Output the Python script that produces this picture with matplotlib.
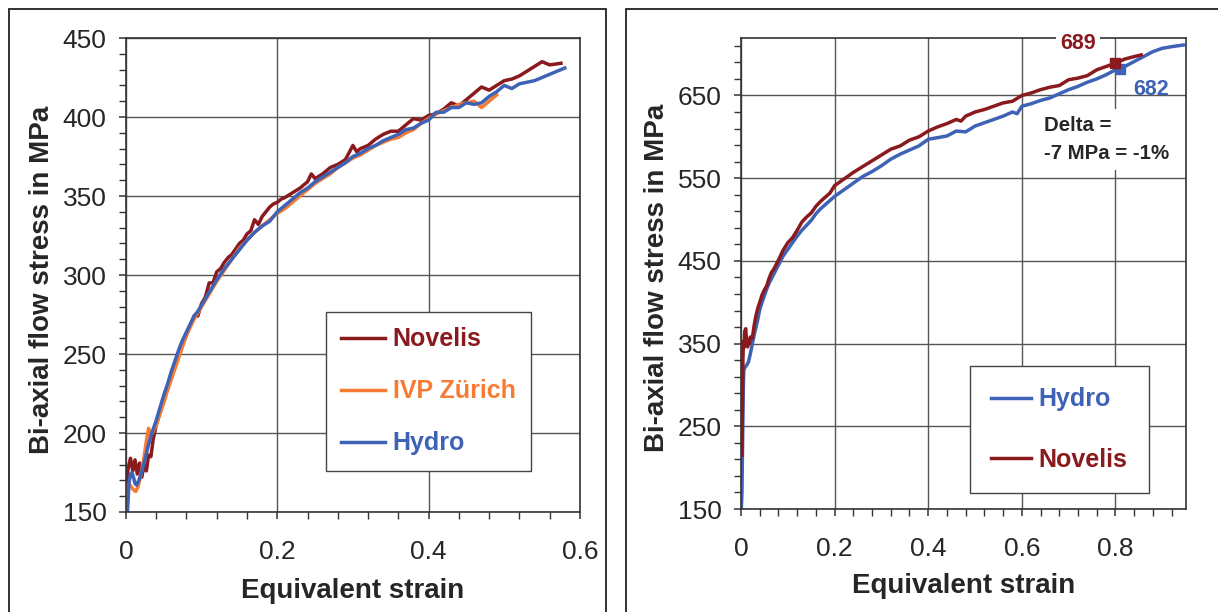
import numpy as np
import matplotlib
matplotlib.use("Agg")
import matplotlib.pyplot as plt
from matplotlib.patches import Rectangle
from matplotlib.ticker import MultipleLocator

plt.rcParams['font.family'] = ['Liberation Sans', 'DejaVu Sans']

# --- left panel: three labs, same material ---
novelis_l_strain = [0.000, 0.003, 0.006, 0.009, 0.012, 0.015, 0.018, 0.021, 0.024, 0.027,
                    0.030, 0.033, 0.036, 0.040, 0.045, 0.050, 0.055, 0.060, 0.065, 0.070,
                    0.075, 0.080, 0.085, 0.090, 0.095, 0.100, 0.105, 0.110, 0.115, 0.120,
                    0.125, 0.130, 0.135, 0.140, 0.150, 0.155, 0.160, 0.165, 0.170, 0.175,
                    0.180, 0.185, 0.190, 0.195, 0.200, 0.205, 0.210, 0.220, 0.230, 0.240,
                    0.245, 0.250, 0.260, 0.270, 0.280, 0.290, 0.300, 0.305, 0.310, 0.320,
                    0.330, 0.340, 0.350, 0.360, 0.370, 0.380, 0.390, 0.400, 0.410, 0.420,
                    0.430, 0.440, 0.450, 0.460, 0.470, 0.480, 0.490, 0.500, 0.510, 0.520,
                    0.530, 0.540, 0.550, 0.560, 0.575]
novelis_l_stress = [165, 178, 184, 176, 183, 174, 181, 172, 180, 176,
                    186, 185, 196, 205, 213, 222, 228, 236, 243, 250,
                    256, 262, 268, 274, 274, 282, 286, 295, 295, 302,
                    304, 308, 311, 313, 320, 322, 326, 328, 335, 332,
                    337, 340, 343, 345, 346, 348, 349, 352, 355, 359,
                    364, 361, 364, 368, 370, 373, 382, 378, 380, 382,
                    386, 389, 391, 391, 395, 399, 398, 401, 402, 405,
                    409, 407, 411, 415, 419, 417, 420, 423, 424, 426,
                    429, 432, 435, 433, 434]

ivp_strain = [0.000, 0.004, 0.007, 0.010, 0.013, 0.016, 0.020, 0.024, 0.027, 0.030,
              0.032, 0.035, 0.040, 0.045, 0.050, 0.055, 0.060, 0.065, 0.070, 0.075,
              0.080, 0.090, 0.100, 0.110, 0.120, 0.130, 0.140, 0.150, 0.160, 0.170,
              0.180, 0.190, 0.200, 0.210, 0.220, 0.230, 0.240, 0.250, 0.260, 0.270,
              0.280, 0.290, 0.300, 0.310, 0.320, 0.330, 0.340, 0.350, 0.360, 0.370,
              0.380, 0.390, 0.400, 0.410, 0.420, 0.430, 0.440, 0.450, 0.460, 0.470,
              0.480, 0.490]
ivp_stress = [160, 168, 166, 164, 163, 166, 174, 185, 195, 203,
              198, 200, 205, 212, 219, 227, 234, 241, 248, 255,
              262, 272, 280, 288, 296, 303, 310, 317, 322, 327,
              331, 335, 339, 342, 346, 350, 354, 358, 361, 364,
              368, 371, 374, 376, 379, 382, 384, 386, 387, 390,
              392, 396, 399, 402, 404, 406, 408, 409, 410, 406,
              410, 414]

hydro_l_strain = [0.000, 0.002, 0.004, 0.006, 0.008, 0.010, 0.012, 0.014, 0.017, 0.020,
                  0.025, 0.030, 0.035, 0.040, 0.045, 0.050, 0.055, 0.060, 0.065, 0.070,
                  0.075, 0.080, 0.085, 0.090, 0.095, 0.100, 0.105, 0.110, 0.115, 0.120,
                  0.130, 0.140, 0.150, 0.160, 0.170, 0.180, 0.190, 0.200, 0.210, 0.220,
                  0.230, 0.240, 0.250, 0.260, 0.270, 0.280, 0.290, 0.300, 0.310, 0.320,
                  0.330, 0.340, 0.350, 0.360, 0.370, 0.380, 0.390, 0.400, 0.410, 0.420,
                  0.430, 0.440, 0.450, 0.460, 0.470, 0.480, 0.490, 0.500, 0.510, 0.520,
                  0.530, 0.540, 0.550, 0.560, 0.570, 0.580]
hydro_l_stress = [148, 150, 168, 174, 175, 172, 168, 167, 170, 174,
                  183, 193, 201, 208, 216, 224, 231, 239, 246, 253,
                  259, 264, 269, 274, 277, 281, 285, 289, 293, 297,
                  304, 310, 316, 322, 327, 331, 334, 340, 344, 348,
                  352, 355, 359, 362, 365, 368, 371, 375, 377, 380,
                  382, 385, 387, 389, 392, 393, 396, 398, 403, 403,
                  406, 406, 409, 408, 409, 413, 416, 420, 418, 421,
                  422, 423, 425, 427, 429, 431]

# --- right panel: Hydro vs Novelis, second material ---
hydro_r_strain = [0.000, 0.002, 0.003, 0.004, 0.005, 0.006, 0.008, 0.012, 0.016, 0.020,
                  0.025, 0.030, 0.035, 0.040, 0.045, 0.050, 0.055, 0.060, 0.070, 0.080,
                  0.090, 0.100, 0.110, 0.120, 0.130, 0.140, 0.150, 0.160, 0.170, 0.180,
                  0.190, 0.200, 0.220, 0.240, 0.260, 0.280, 0.300, 0.320, 0.340, 0.360,
                  0.380, 0.400, 0.420, 0.440, 0.460, 0.480, 0.500, 0.520, 0.540, 0.560,
                  0.580, 0.590, 0.600, 0.620, 0.640, 0.660, 0.680, 0.700, 0.720, 0.740,
                  0.760, 0.780, 0.800, 0.820, 0.840, 0.860, 0.880, 0.900, 0.920, 0.945]
hydro_r_stress = [140, 170, 215, 260, 300, 318, 321, 324, 328, 338,
                  352, 365, 377, 391, 400, 408, 416, 423, 434, 445,
                  456, 464, 472, 480, 487, 493, 499, 507, 513, 518,
                  523, 528, 536, 544, 552, 558, 565, 573, 579, 584,
                  589, 597, 599, 601, 607, 606, 613, 617, 621, 625,
                  630, 628, 637, 640, 644, 647, 652, 657, 661, 666,
                  670, 675, 681, 685, 691, 697, 703, 707, 709, 711]

novelis_r_strain = [0.002, 0.003, 0.004, 0.005, 0.006, 0.008, 0.010, 0.012, 0.014, 0.016,
                    0.018, 0.020, 0.024, 0.028, 0.032, 0.036, 0.040, 0.045, 0.050, 0.055,
                    0.060, 0.065, 0.070, 0.080, 0.090, 0.100, 0.110, 0.120, 0.130, 0.140,
                    0.150, 0.160, 0.170, 0.180, 0.190, 0.200, 0.220, 0.240, 0.260, 0.280,
                    0.300, 0.320, 0.340, 0.360, 0.380, 0.400, 0.420, 0.440, 0.460, 0.470,
                    0.480, 0.500, 0.520, 0.540, 0.560, 0.580, 0.600, 0.620, 0.640, 0.660,
                    0.680, 0.700, 0.720, 0.740, 0.760, 0.780, 0.800, 0.820, 0.840, 0.855]
novelis_r_stress = [215, 280, 330, 352, 345, 365, 368, 352, 346, 355,
                    350, 358, 356, 372, 384, 393, 400, 409, 415, 420,
                    429, 436, 440, 451, 463, 472, 478, 487, 497, 503,
                    508, 516, 522, 527, 532, 541, 549, 557, 564, 571,
                    578, 585, 589, 596, 600, 607, 612, 616, 621, 619,
                    625, 630, 633, 637, 641, 643, 650, 653, 657, 660,
                    662, 669, 671, 674, 681, 685, 689, 694, 697, 699]

mark_strain = 0.80
novelis_mark = 689
hydro_mark = 682
delta_mpa = hydro_mark - novelis_mark
delta_pct = round(100 * delta_mpa / novelis_mark)

c_novelis = '#8b1a1e'
c_ivp = '#f77b32'
c_hydro = '#3e62b5'
txt = '#262626'

fig = plt.figure(figsize=(12.18, 6.12), dpi=100)

# outer panel frames
fig.patches.append(Rectangle((0.0071, -0.02), 0.4902, 1.006, transform=fig.transFigure,
                             fill=False, edgecolor='#222222', lw=1.3))
fig.patches.append(Rectangle((0.5137, -0.02), 0.52, 1.006, transform=fig.transFigure,
                             fill=False, edgecolor='#222222', lw=1.3))


def style_axes(ax):
    ax.grid(True, which='major', color='#555555', lw=1.0)
    ax.set_axisbelow(True)
    for s in ax.spines.values():
        s.set_color('#333333')
        s.set_linewidth(1.2)
    ax.tick_params(which='both', direction='out', color='#333333', labelcolor=txt,
                   labelsize=19)
    ax.tick_params(which='major', length=5, width=1.1)
    ax.tick_params(which='minor', length=5, width=1.0)
    ax.tick_params(axis='x', pad=15)
    ax.tick_params(axis='y', pad=9)
    ax.set_xlabel('Equivalent strain', fontsize=20, fontweight='bold', color=txt)
    ax.set_ylabel('Bi-axial flow stress in MPa', fontsize=20, fontweight='bold', color=txt)


# left
ax1 = fig.add_axes([0.1034, 0.1634, 0.3727, 0.7745])
ax1.plot(novelis_l_strain, novelis_l_stress, color=c_novelis, lw=2.5, label='Novelis')
ax1.plot(ivp_strain, ivp_stress, color=c_ivp, lw=2.5, label='IVP Zürich')
ax1.plot(hydro_l_strain, hydro_l_stress, color=c_hydro, lw=2.5, label='Hydro')
ax1.set_xlim(0, 0.6)
ax1.set_ylim(150, 450)
ax1.xaxis.set_major_locator(MultipleLocator(0.2))
ax1.xaxis.set_minor_locator(MultipleLocator(0.04))
ax1.yaxis.set_major_locator(MultipleLocator(50))
ax1.yaxis.set_minor_locator(MultipleLocator(10))
ax1.xaxis.set_major_formatter(lambda v, p: '0' if v == 0 else f'{v:g}')
style_axes(ax1)
ax1.xaxis.set_label_coords(0.5, -0.139)
ax1.yaxis.set_label_coords(-0.157, 0.49)
leg1 = ax1.legend(loc='upper left', bbox_to_anchor=(0.4405, 0.422),
                  prop={'weight': 'bold', 'size': 18}, frameon=True, fancybox=False,
                  framealpha=1, edgecolor='#444444', handlelength=1.75,
                  handletextpad=0.3, labelspacing=1.12, borderpad=0.62, borderaxespad=0)
leg1.get_frame().set_linewidth(1.0)
for t, c in zip(leg1.get_texts(), [c_novelis, c_ivp, c_hydro]):
    t.set_color(c)

# right
ax2 = fig.add_axes([0.6084, 0.1683, 0.365, 0.7703])
ax2.plot(hydro_r_strain, hydro_r_stress, color=c_hydro, lw=2.5, label='Hydro')
ax2.plot(novelis_r_strain, novelis_r_stress, color=c_novelis, lw=2.5, label='Novelis')
ax2.plot([mark_strain], [novelis_mark], 's', color=c_novelis, ms=7, zorder=4)
ax2.plot([mark_strain + 0.01], [hydro_mark], 's', color=c_hydro, ms=7, zorder=3.9)
ax2.set_xlim(0, 0.95)
ax2.set_ylim(150, 720)
ax2.xaxis.set_major_locator(MultipleLocator(0.2))
ax2.xaxis.set_minor_locator(MultipleLocator(0.04))
ax2.yaxis.set_major_locator(MultipleLocator(100, offset=50))
ax2.yaxis.set_minor_locator(MultipleLocator(20, offset=10))
ax2.xaxis.set_major_formatter(lambda v, p: '0' if v == 0 else f'{v:g}')
style_axes(ax2)
ax2.xaxis.set_label_coords(0.5, -0.136)
ax2.yaxis.set_label_coords(-0.159, 0.49)
leg2 = ax2.legend(loc='upper left', bbox_to_anchor=(0.515, 0.303),
                  prop={'weight': 'bold', 'size': 18}, frameon=True, fancybox=False,
                  framealpha=1, edgecolor='#444444', handlelength=1.6,
                  handletextpad=0.3, labelspacing=1.45, borderpad=0.85, borderaxespad=0)
leg2.get_frame().set_linewidth(1.0)
for t, c in zip(leg2.get_texts(), [c_hydro, c_novelis]):
    t.set_color(c)

ax2.text(0.72, 713, f'{novelis_mark}', color=c_novelis, fontsize=15.5, fontweight='bold',
         ha='center', va='center', zorder=5, clip_on=False,
         bbox=dict(facecolor='white', edgecolor='none', pad=3))
ax2.text(0.876, 657, f'{hydro_mark}', color=c_hydro, fontsize=15.5, fontweight='bold',
         ha='center', va='center', zorder=5)
ax2.text(0.647, 597, f'Delta =\n{delta_mpa} MPa = {delta_pct}%', color=txt,
         fontsize=14.7, fontweight='bold', ha='left', va='center', linespacing=1.6,
         zorder=5, bbox=dict(facecolor='white', edgecolor='none', pad=5))

fig.savefig('out.png', dpi=100)
